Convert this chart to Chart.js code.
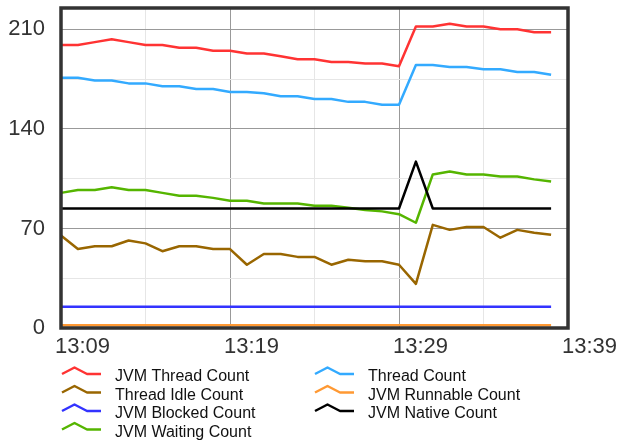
<!DOCTYPE html>
<html>
<head>
<meta charset="utf-8">
<script src="https://cdn.jsdelivr.net/npm/chart.js@4"></script>
<style>
  body { margin: 0; background: #fff; }
  #wrap { width: 624px; height: 446px; }
</style>
</head>
<body>
<div id="wrap"><canvas id="grafico"></canvas></div>
<script>
// minutos (13:09 .. 13:39), um ponto por minuto
const horarios = ['13:09', '13:10', '13:11', '13:12', '13:13', '13:14', '13:15', '13:16', '13:17', '13:18',
                  '13:19', '13:20', '13:21', '13:22', '13:23', '13:24', '13:25', '13:26', '13:27', '13:28',
                  '13:29', '13:30', '13:31', '13:32', '13:33', '13:34', '13:35', '13:36', '13:37', '13:38',
                  '13:39'];

const jvmThreadCount = [199, 199, 201, 203, 201, 199, 199, 197, 197, 195, 195, 193, 193, 191, 189,
                        189, 187, 187, 186, 186, 184, 212, 212, 214, 212, 212, 210, 210, 208, 208];
const threadCount = [176, 176, 174, 174, 172, 172, 170, 170, 168, 168, 166, 166, 165, 163, 163,
                     161, 161, 159, 159, 157, 157, 185, 185, 183.5, 183.5, 182, 182, 180, 180, 178];
const threadIdleCount = [65, 55.5, 57.5, 57.5, 61.5, 59.5, 54, 57.5, 57.5, 55.5, 55.5, 44.5, 52, 52, 50,
                         50, 44.5, 48, 47, 47, 44.5, 31, 72.5, 69, 71, 71, 63.5, 69, 67, 65.5];
const jvmRunnableCount = [2, 2, 2, 2, 2, 2, 2, 2, 2, 2, 2, 2, 2, 2, 2,
                          2, 2, 2, 2, 2, 2, 2, 2, 2, 2, 2, 2, 2, 2, 2];
const jvmBlockedCount = [15, 15, 15, 15, 15, 15, 15, 15, 15, 15, 15, 15, 15, 15, 15,
                         15, 15, 15, 15, 15, 15, 15, 15, 15, 15, 15, 15, 15, 15, 15];
const jvmNativeCount = [84, 84, 84, 84, 84, 84, 84, 84, 84, 84, 84, 84, 84, 84, 84,
                        84, 84, 84, 84, 84, 84, 117, 84, 84, 84, 84, 84, 84, 84, 84];
const jvmWaitingCount = [95, 97, 97, 99, 97, 97, 95, 93, 93, 91.5, 89.5, 89.5, 87.5, 87.5, 87.5,
                         86, 86, 84.5, 83, 82, 80, 74, 108, 110, 108, 108, 106.5, 106.5, 104.5, 103];

// linhas de grade do eixo Y (as com rótulo e as intermediárias)
const ticksY = [0, 70, 140, 210];
const gradeY = [0, 35, 70, 105, 140, 175, 210];

function serie(label, data, cor) {
    return {
        label: label,
        data: data,
        borderColor: cor,
        backgroundColor: cor,
        borderWidth: 2.5,
        pointRadius: 0,
        tension: 0,
        fill: false,
        borderJoinStyle: 'round'
    };
}

// moldura grossa em volta da área do gráfico
const moldura = {
    id: 'moldura',
    afterDatasetsDraw(chart) {
        const a = chart.chartArea;
        const c = chart.ctx;
        c.save();
        c.strokeStyle = '#333';
        c.lineWidth = 3.5;
        c.strokeRect(a.left, a.top, a.right - a.left, a.bottom - a.top);
        c.restore();
    }
};

// legenda em duas colunas com o ícone de linha quebrada
const legenda = {
    id: 'legenda',
    afterDraw(chart) {
        const c = chart.ctx;
        c.save();
        c.font = '16px "Liberation Sans", Arial, sans-serif';
        c.textBaseline = 'middle';
        c.lineWidth = 2.5;
        c.lineJoin = 'round';
        chart.data.datasets.forEach((ds, i) => {
            const col = i % 2;
            const lin = Math.floor(i / 2);
            const x0 = col === 0 ? 62 : 315;
            const cy = 376 + lin * 18.5;
            c.strokeStyle = ds.borderColor;
            c.beginPath();
            c.moveTo(x0, cy - 2);
            c.lineTo(x0 + 12.5, cy - 8.5);
            c.lineTo(x0 + 25, cy - 2);
            c.lineTo(x0 + 39, cy - 2);
            c.stroke();
            c.fillStyle = '#111';
            c.fillText(ds.label, x0 + 53, cy + 1);
        });
        c.restore();
    }
};

const ctx = document.getElementById('grafico').getContext('2d');
const grafico = new Chart(ctx, {
    type: 'line',
    data: {
        labels: horarios,
        datasets: [
            serie('JVM Thread Count', jvmThreadCount, '#ff3333'),
            serie('Thread Count', threadCount, '#33aaff'),
            serie('Thread Idle Count', threadIdleCount, '#996600'),
            serie('JVM Runnable Count', jvmRunnableCount, '#ff9933'),
            serie('JVM Blocked Count', jvmBlockedCount, '#3333ff'),
            serie('JVM Native Count', jvmNativeCount, '#000000'),
            serie('JVM Waiting Count', jvmWaitingCount, '#55b500')
        ]
    },
    options: {
        responsive: true,
        maintainAspectRatio: false,
        animation: false,
        layout: {
            padding: { top: 8, right: 56, left: 0, bottom: 0 }
        },
        plugins: {
            legend: { display: false },
            title: { display: false },
            tooltip: { enabled: false }
        },
        scales: {
            x: {
                afterFit(scale) {
                    scale.height = 118;
                    scale.paddingLeft = 0;
                    scale.paddingRight = 0;
                },
                border: { display: false },
                grid: {
                    drawTicks: false,
                    color: (c) => c.index % 10 === 0 ? '#999' : (c.index % 5 === 0 ? '#e6e6e6' : 'rgba(0,0,0,0)')
                },
                ticks: {
                    autoSkip: false,
                    maxRotation: 0,
                    align: 'start',
                    labelOffset: -6,
                    padding: 6,
                    color: '#333',
                    font: { size: 22, family: '"Liberation Sans", Arial, sans-serif' },
                    callback: (v, i) => i % 10 === 0 ? horarios[i] : ''
                }
            },
            y: {
                min: 0,
                max: 225,
                afterBuildTicks(scale) {
                    scale.ticks = gradeY.map(v => ({ value: v }));
                },
                afterFit(scale) {
                    scale.width = 61;
                    scale.paddingTop = 0;
                    scale.paddingBottom = 0;
                },
                border: { display: false },
                grid: {
                    drawTicks: false,
                    color: (c) => ticksY.includes(c.tick.value) ? '#999' : '#e6e6e6'
                },
                ticks: {
                    autoSkip: false,
                    padding: 16,
                    color: '#333',
                    font: { size: 22, family: '"Liberation Sans", Arial, sans-serif' },
                    callback: (v) => ticksY.includes(v) ? v : ''
                }
            }
        }
    },
    plugins: [moldura, legenda]
});
</script>
</body>
</html>
